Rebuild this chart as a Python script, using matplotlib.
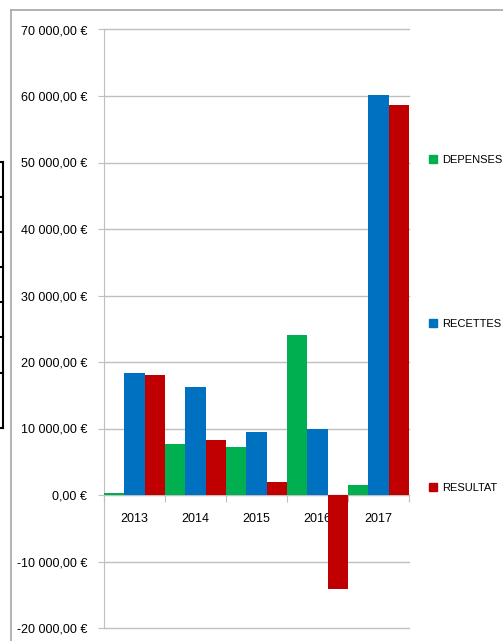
import matplotlib.pyplot as plt
from matplotlib.lines import Line2D
from matplotlib.patches import Patch
import numpy as np

# data
years = ["2013", "2014", "2015", "2016", "2017"]
depenses = [300, 7700, 7200, 24100, 1500]
recettes = [18400, 16200, 9400, 10000, 60200]
resultat = [18100, 8300, 2000, -14200, 58600]
series_names = ["DEPENSES", "RECETTES", "RESULTAT"]
colors = ["#00B050", "#0070C0", "#C00000"]
yticks = list(range(-20000, 70001, 10000))

plt.rcParams['font.family'] = ['Liberation Sans', 'DejaVu Sans']
FS = 9


def euro(v):
    s = f"{abs(v):,.2f}".replace(",", " ").replace(".", ",")
    return ("-" if v < 0 else "") + s + " €"


W, H = 503, 641
fig = plt.figure(figsize=(W / 100, H / 100), dpi=100)

# plot area in pixels: x 104..409, y 29.5..628
ax = fig.add_axes([104 / W, (H - 628) / H, (409 - 104) / W, (628 - 29.5) / H])

x = np.arange(len(years))
width = 1 / 3
for i, (vals, c) in enumerate(zip([depenses, recettes, resultat], colors)):
    ax.bar(x + (i - 1) * width, vals, width=width, color=c, zorder=3)

ax.set_xlim(-0.5, len(years) - 0.5)
ax.set_ylim(-20000, 70000)
ax.set_yticks(yticks)
ax.set_yticklabels([euro(v) for v in yticks], fontsize=FS)
ax.yaxis.grid(True, color="#BFBFBF", linewidth=1, zorder=0)
for gl in ax.get_ygridlines():
    gl.set_clip_on(False)

# x axis at zero, ticks at category boundaries, labels centered
ax.spines['bottom'].set_position(('data', 0))
ax.spines['bottom'].set_color("#BFBFBF")
ax.spines['left'].set_color("#BFBFBF")
ax.spines['top'].set_visible(False)
ax.spines['right'].set_visible(False)
ax.set_xticks(np.arange(-0.5, len(years), 1))
ax.set_xticklabels([])
ax.set_xticks(x, minor=True)
ax.set_xticklabels(years, minor=True, fontsize=FS)
ax.tick_params(axis='x', which='major', length=5, color="#BFBFBF", direction='out')
ax.tick_params(axis='x', which='minor', length=0, pad=13)
ax.tick_params(axis='y', length=4, color="#BFBFBF", pad=8)

# legend on the right
handles = [Patch(color=c) for c in colors]
fig.legend(handles, series_names, loc='upper left', bbox_to_anchor=(429 / W, 1 - 155 / H),
           frameon=False, fontsize=8, handlelength=0.75, handleheight=0.75,
           handletextpad=0.4, labelspacing=13.85, borderaxespad=0, borderpad=0)

# outer chart frame
fig.add_artist(Line2D([11 / W, 11 / W], [0, 1 - 10 / H], color="#A6A6A6", lw=1.2))
fig.add_artist(Line2D([11 / W, 1], [1 - 10 / H, 1 - 10 / H], color="#A6A6A6", lw=1.2))

# bit of a table visible at the left edge
rows = [162, 197, 232, 267, 302, 337, 373, 428]
for r in rows:
    fig.add_artist(Line2D([0, 3 / W], [1 - r / H, 1 - r / H], color="black", lw=1.5))
fig.add_artist(Line2D([3 / W, 3 / W], [1 - 162 / H, 1 - 428 / H], color="black", lw=1.5))

plt.savefig("out.png", dpi=100)
